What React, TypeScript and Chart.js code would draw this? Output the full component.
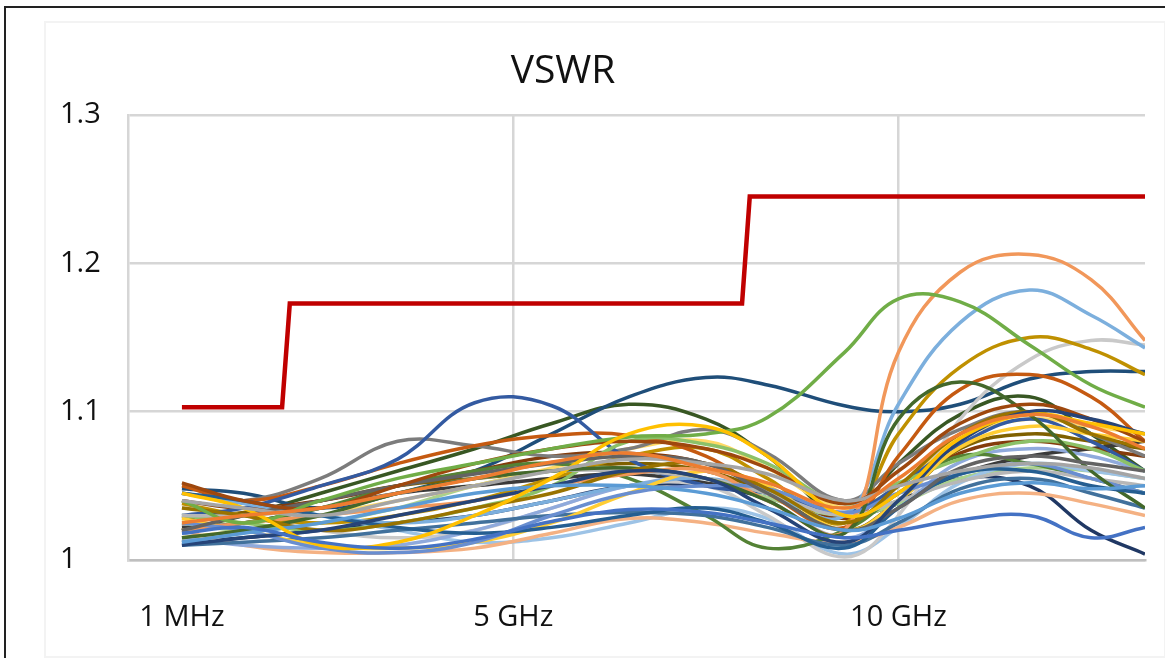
import React, { useEffect, useRef } from "react";
import { Chart, registerables } from "chart.js";

Chart.register(...registerables);

// Axis positions (GHz scale positions) of the measured points
const freqPos = [0.7, 1.5, 2.5, 3.5, 4.5, 5.5, 6.5, 7.5, 8.3, 9.3, 10.0, 10.8, 11.7, 12.5, 13.2];

// Limit line (step)
const limitFreq = [0.7, 2.0, 2.1, 7.97, 8.07, 13.2];
const limitVswr = [1.103, 1.103, 1.173, 1.173, 1.245, 1.245];

// Tick labels
const xTickValues = [0.7, 5, 10];
const xTickLabels = ["1 MHz", "5 GHz", "10 GHz"];
const yTickValues = [1, 1.1, 1.2, 1.3];
const yTickLabels = ["1", "1.1", "1.2", "1.3"];

// Measured VSWR traces
const s01 = [1.018, 1.022, 1.012, 1.008, 1.014, 1.026, 1.034, 1.032, 1.025, 1.015, 1.02, 1.027, 1.03, 1.015, 1.022];
const s02 = [1.025, 1.03, 1.035, 1.045, 1.055, 1.066, 1.072, 1.062, 1.052, 1.035, 1.055, 1.085, 1.098, 1.09, 1.075];
const s03 = [1.04, 1.035, 1.03, 1.04, 1.05, 1.06, 1.068, 1.065, 1.058, 1.04, 1.05, 1.06, 1.065, 1.062, 1.055];
const s04 = [1.045, 1.035, 1.01, 1.012, 1.03, 1.055, 1.085, 1.09, 1.07, 1.03, 1.045, 1.082, 1.098, 1.092, 1.085];
const s05 = [1.012, 1.018, 1.025, 1.035, 1.045, 1.05, 1.05, 1.045, 1.035, 1.02, 1.028, 1.045, 1.052, 1.048, 1.05];
const s06 = [1.04, 1.025, 1.04, 1.055, 1.065, 1.075, 1.083, 1.085, 1.096, 1.14, 1.176, 1.174, 1.145, 1.118, 1.103];
const s07 = [1.01, 1.015, 1.02, 1.03, 1.04, 1.05, 1.06, 1.055, 1.035, 1.012, 1.04, 1.08, 1.1, 1.095, 1.085];
const s08 = [1.052, 1.04, 1.035, 1.05, 1.065, 1.075, 1.08, 1.075, 1.062, 1.038, 1.06, 1.092, 1.105, 1.095, 1.08];
const s09 = [1.02, 1.03, 1.04, 1.05, 1.058, 1.065, 1.07, 1.065, 1.045, 1.02, 1.035, 1.062, 1.07, 1.065, 1.06];
const s10 = [1.035, 1.03, 1.02, 1.025, 1.035, 1.045, 1.06, 1.065, 1.048, 1.025, 1.05, 1.085, 1.1, 1.085, 1.075];
const s11 = [1.045, 1.04, 1.03, 1.022, 1.018, 1.022, 1.03, 1.035, 1.025, 1.008, 1.035, 1.058, 1.06, 1.05, 1.045];
const s12 = [1.015, 1.02, 1.03, 1.045, 1.055, 1.06, 1.062, 1.055, 1.04, 1.018, 1.095, 1.12, 1.098, 1.06, 1.035];
const s13 = [1.025, 1.02, 1.008, 1.005, 1.012, 1.03, 1.045, 1.05, 1.048, 1.032, 1.045, 1.058, 1.065, 1.055, 1.045];
const s14 = [1.02, 1.025, 1.03, 1.035, 1.04, 1.05, 1.058, 1.06, 1.04, 1.02, 1.14, 1.194, 1.206, 1.189, 1.148];
const s15 = [1.03, 1.03, 1.035, 1.045, 1.055, 1.06, 1.06, 1.055, 1.045, 1.03, 1.04, 1.053, 1.06, 1.055, 1.05];
const s16 = [1.028, 1.02, 1.01, 1.008, 1.012, 1.025, 1.045, 1.06, 1.05, 1.02, 1.04, 1.076, 1.09, 1.085, 1.08];
const s17 = [1.045, 1.038, 1.03, 1.025, 1.03, 1.04, 1.05, 1.055, 1.045, 1.03, 1.105, 1.16, 1.182, 1.165, 1.143];
const s18 = [1.03, 1.025, 1.02, 1.025, 1.035, 1.05, 1.08, 1.078, 1.065, 1.038, 1.052, 1.068, 1.08, 1.075, 1.06];
const s19 = [1.03, 1.035, 1.05, 1.068, 1.106, 1.104, 1.068, 1.05, 1.045, 1.032, 1.05, 1.078, 1.095, 1.08, 1.06];
const s20 = [1.05, 1.04, 1.05, 1.065, 1.077, 1.084, 1.084, 1.07, 1.045, 1.022, 1.07, 1.115, 1.125, 1.11, 1.08];
const s21 = [1.045, 1.04, 1.055, 1.08, 1.077, 1.07, 1.075, 1.088, 1.072, 1.04, 1.065, 1.088, 1.1, 1.085, 1.07];
const s22 = [1.038, 1.03, 1.025, 1.03, 1.04, 1.055, 1.07, 1.075, 1.055, 1.025, 1.085, 1.13, 1.15, 1.142, 1.125];
const s23 = [1.01, 1.012, 1.015, 1.02, 1.025, 1.03, 1.032, 1.03, 1.022, 1.01, 1.025, 1.048, 1.055, 1.045, 1.035];
const s24 = [1.02, 1.025, 1.035, 1.05, 1.06, 1.065, 1.055, 1.03, 1.008, 1.02, 1.045, 1.07, 1.065, 1.055, 1.045];
const s25 = [1.015, 1.01, 1.008, 1.01, 1.02, 1.035, 1.05, 1.055, 1.04, 1.015, 1.035, 1.066, 1.075, 1.07, 1.06];
const s26 = [1.02, 1.01, 1.005, 1.005, 1.008, 1.018, 1.028, 1.025, 1.018, 1.012, 1.022, 1.04, 1.045, 1.038, 1.03];
const s27 = [1.035, 1.03, 1.02, 1.015, 1.02, 1.035, 1.05, 1.05, 1.03, 1.002, 1.03, 1.095, 1.135, 1.148, 1.145];
const s28 = [1.015, 1.02, 1.03, 1.04, 1.05, 1.062, 1.075, 1.08, 1.062, 1.035, 1.05, 1.082, 1.095, 1.09, 1.085];
const s29 = [1.045, 1.04, 1.03, 1.02, 1.012, 1.015, 1.025, 1.035, 1.028, 1.004, 1.022, 1.052, 1.065, 1.06, 1.055];
const s30 = [1.025, 1.02, 1.025, 1.035, 1.05, 1.06, 1.062, 1.055, 1.042, 1.03, 1.038, 1.055, 1.062, 1.06, 1.055];
const s31 = [1.012, 1.015, 1.02, 1.025, 1.03, 1.04, 1.05, 1.05, 1.042, 1.03, 1.038, 1.055, 1.05, 1.02, 1.004];
const s32 = [1.04, 1.035, 1.04, 1.05, 1.06, 1.07, 1.072, 1.065, 1.048, 1.028, 1.045, 1.072, 1.08, 1.075, 1.07];
const s33 = [1.022, 1.025, 1.035, 1.045, 1.05, 1.055, 1.058, 1.052, 1.045, 1.03, 1.04, 1.058, 1.07, 1.075, 1.08];
const s34 = [1.028, 1.032, 1.04, 1.05, 1.055, 1.06, 1.065, 1.06, 1.045, 1.02, 1.04, 1.075, 1.085, 1.08, 1.075];
const s35 = [1.048, 1.045, 1.035, 1.045, 1.06, 1.085, 1.11, 1.123, 1.118, 1.104, 1.1, 1.105, 1.122, 1.127, 1.127];
const s36 = [1.02, 1.03, 1.045, 1.06, 1.075, 1.092, 1.105, 1.095, 1.07, 1.03, 1.065, 1.098, 1.11, 1.085, 1.06];

const seriesValues = [
  s01, s02, s03, s04, s05, s06, s07, s08, s09, s10, s11, s12,
  s13, s14, s15, s16, s17, s18, s19, s20, s21, s22, s23, s24,
  s25, s26, s27, s28, s29, s30, s31, s32, s33, s34, s35, s36,
];

const seriesColors = [
  "#4472C4", "#ED7D31", "#A5A5A5", "#FFC000", "#5B9BD5", "#70AD47",
  "#264478", "#9E480E", "#636363", "#997300", "#255E91", "#43682B",
  "#698ED0", "#F1975A", "#B7B7B7", "#FFCD33", "#7CAFDD", "#8CC168",
  "#335AA1", "#C55A11", "#7C7C7C", "#BF9000", "#41719C", "#548235",
  "#8FAADC", "#F4B183", "#C9C9C9", "#FFD966", "#9DC3E6", "#A9D18E",
  "#203864", "#843C0C", "#3A3A3A", "#7F6000", "#1F4E79", "#385723",
];

const FONT = "'Open Sans', 'Liberation Sans', sans-serif";

export default function App() {
  const canvasRef = useRef<HTMLCanvasElement | null>(null);

  useEffect(() => {
    const canvas = canvasRef.current;
    if (!canvas) return;

    const datasets: any[] = seriesValues.map((vals, i) => ({
      label: `Trace ${i + 1}`,
      data: vals.map((v, j) => ({ x: freqPos[j], y: v })),
      borderColor: seriesColors[i],
      backgroundColor: seriesColors[i],
      borderWidth: 3.5,
      pointRadius: 0,
      tension: 0.4,
      fill: false,
    }));
    datasets.push({
      label: "Limit",
      data: limitFreq.map((f, j) => ({ x: f, y: limitVswr[j] })),
      borderColor: "#C00000",
      backgroundColor: "#C00000",
      borderWidth: 4.5,
      pointRadius: 0,
      tension: 0,
      fill: false,
    });

    const chart = new Chart(canvas, {
      type: "line",
      data: { datasets },
      options: {
        animation: false,
        responsive: false,
        maintainAspectRatio: false,
        layout: { padding: { left: 60, right: 20, top: 115, bottom: 0 } },
        plugins: {
          legend: { display: false },
          tooltip: { enabled: false },
          title: { display: false },
        },
        scales: {
          x: {
            type: "linear",
            min: 0,
            max: 13.2,
            afterBuildTicks: (s: any) => {
              s.ticks = xTickValues.map((v) => ({ value: v }));
            },
            afterFit: (s: any) => {
              s.height = 98;
            },
            ticks: {
              autoSkip: false,
              maxRotation: 0,
              minRotation: 0,
              padding: 40,
              color: "#111111",
              font: { family: FONT, size: 29 },
              callback: (_v: any, i: number) => xTickLabels[i],
            },
            grid: {
              color: (c: any) =>
                c.tick && c.tick.value === xTickValues[0] ? "rgba(0,0,0,0)" : "#D6D6D6",
              lineWidth: 2.5,
              drawTicks: false,
            },
            border: { color: "#BFBFBF", width: 2.5 },
          },
          y: {
            type: "linear",
            min: 1,
            max: 1.3,
            afterBuildTicks: (s: any) => {
              s.ticks = yTickValues.map((v) => ({ value: v }));
            },
            afterFit: (s: any) => {
              s.width = 68;
            },
            ticks: {
              crossAlign: "far",
              padding: 0,
              color: "#111111",
              font: { family: FONT, size: 29 },
              callback: (_v: any, i: number) => yTickLabels[i],
            },
            grid: { color: "#D6D6D6", lineWidth: 2.5, drawTicks: false },
            border: { color: "#D6D6D6", width: 2.5 },
          },
        },
      } as any,
    });

    return () => chart.destroy();
  }, []);

  return (
    <div
      style={{
        position: "fixed",
        left: 0,
        top: 0,
        width: 1165,
        height: 658,
        overflow: "hidden",
        background: "#FFFFFF",
      }}
    >
      <div
        style={{
          position: "absolute",
          left: 44,
          top: 21,
          width: 1118,
          height: 633,
          border: "2px solid #F3F3F3",
        }}
      />
      <div
        style={{
          position: "absolute",
          left: 4,
          top: 6,
          width: 1300,
          height: 800,
          borderLeft: "2px solid #222222",
          borderTop: "2px solid #222222",
        }}
      />
      <canvas
        ref={canvasRef}
        width={1165}
        height={658}
        style={{ position: "absolute", left: 0, top: 0, width: 1165, height: 658 }}
      />
      <div
        style={{
          position: "absolute",
          left: 463,
          top: 49,
          width: 200,
          textAlign: "center",
          fontFamily: FONT,
          fontSize: 39,
          lineHeight: "38px",
          color: "#111111",
        }}
      >
        VSWR
      </div>
    </div>
  );
}
